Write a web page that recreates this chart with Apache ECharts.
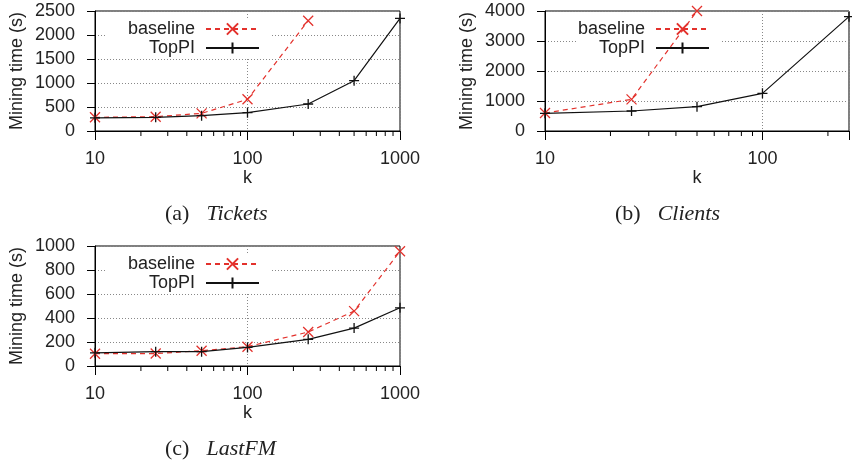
<!DOCTYPE html>
<html>
<head>
<meta charset="utf-8">
<script src="https://cdn.jsdelivr.net/npm/echarts@6/dist/echarts.min.js"></script>
<style>
  html, body { margin: 0; padding: 0; background: #fff; }
  #chart { width: 852px; height: 461px; }
</style>
</head>
<body>
<div id="chart"></div>
<script>
// k values on the x axis (log scale)
const kValues = [10, 25, 50, 100, 250, 500, 1000]
const minorK = [20, 30, 40, 50, 60, 70, 80, 90, 200, 300, 400, 500, 600, 700, 800, 900]
const majorK = [10, 100, 1000]

// mining time (s)
const ticketsBaseline = [285, 298, 368, 660, 2298]
const ticketsTopPI = [275, 285, 320, 382, 562, 1048, 2346]
const clientsBaseline = [600, 1055, 4000]
const clientsTopPI = [589, 667, 811, 1255, 3811]
const lastfmBaseline = [102, 104, 127, 161, 283, 457, 956]
const lastfmTopPI = [110, 119, 119, 155, 222, 316, 485]

const RED = '#e3312c'
const INK = '#222'
const SANS = 'Liberation Sans, Arial, sans-serif'
const SERIF = 'Liberation Serif, Times New Roman, serif'
const CROSS = 'path://M0,0L10,10M0,10L10,0'
const PLUS = 'path://M5,0L5,10M0,5L10,5'

const pairs = vals => vals.map((v, i) => [kValues[i], v])

// one panel per dataset
const panels = [
  { left: 95, top: 11, xMax: 1000, yMax: 2500, yStep: 500, base: ticketsBaseline, top2: ticketsTopPI, cap: '(a)', name: 'Tickets' },
  { left: 545, top: 11, xMax: 250, yMax: 4000, yStep: 1000, base: clientsBaseline, top2: clientsTopPI, cap: '(b)', name: 'Clients' },
  { left: 95, top: 246, xMax: 1000, yMax: 1000, yStep: 200, base: lastfmBaseline, top2: lastfmTopPI, cap: '(c)', name: 'LastFM' },
]

const grid = [], xAxis = [], yAxis = [], series = [], legend = [], title = []

panels.forEach((p, i) => {
  grid.push({
    left: p.left, top: p.top, width: 305, height: 120,
    show: true, borderColor: '#000', borderWidth: 1, backgroundColor: 'transparent',
  })
  xAxis.push({
    gridIndex: i, type: 'log', logBase: 10, min: 10, max: p.xMax,
    axisLine: { show: true, lineStyle: { color: '#000', width: 1 } },
    axisTick: { show: true, inside: false, length: 9, lineStyle: { color: '#000', width: 1 } },
    axisLabel: {
      margin: 19, fontSize: 18, color: INK, fontFamily: SANS,
      showMinLabel: true, showMaxLabel: true,
      formatter: v => (majorK.indexOf(Math.round(v)) >= 0 ? String(Math.round(v)) : ''),
    },
    splitLine: { show: true, lineStyle: { color: '#888', type: [1, 2], width: 1 } },
    name: 'k', nameLocation: 'middle', nameGap: 36,
    nameTextStyle: { fontSize: 18, color: INK, fontFamily: SANS },
  })
  yAxis.push({
    gridIndex: i, type: 'value', min: 0, max: p.yMax, interval: p.yStep,
    axisLine: { show: true, lineStyle: { color: '#000', width: 1 } },
    axisTick: { show: true, inside: false, length: 8, lineStyle: { color: '#000', width: 1 } },
    axisLabel: { margin: 20, fontSize: 18, color: INK, fontFamily: SANS, formatter: v => String(v) },
    splitLine: { show: true, lineStyle: { color: '#888', type: [1, 2], width: 1 } },
    name: 'Mining time (s)', nameLocation: 'middle', nameGap: 69,
    nameTextStyle: { fontSize: 18, color: INK, fontFamily: SANS },
  })
  series.push({
    name: 'baseline', type: 'line', xAxisIndex: i, yAxisIndex: i, z: 3, clip: false,
    data: pairs(p.base),
    symbol: CROSS, symbolSize: 10,
    itemStyle: { color: RED, borderColor: RED, borderWidth: 1.3 },
    lineStyle: { color: RED, width: 1.2, type: [5, 4] },
  })
  series.push({
    name: 'TopPI', type: 'line', xAxisIndex: i, yAxisIndex: i, z: 3, clip: false,
    data: pairs(p.top2),
    symbol: PLUS, symbolSize: 10,
    itemStyle: { color: '#111', borderColor: '#111', borderWidth: 1.3 },
    lineStyle: { color: '#111', width: 1.2 },
  })
  // minor ticks of the log axis
  series.push({
    type: 'custom', xAxisIndex: i, yAxisIndex: i, silent: true, z: 1, clip: false,
    data: minorK.filter(k => k <= p.xMax).map(k => [k, 0]),
    renderItem: (params, api) => {
      const pt = api.coord([api.value(0), 0])
      return {
        type: 'line',
        shape: { x1: pt[0], y1: pt[1], x2: pt[0], y2: pt[1] + 5 },
        style: { stroke: '#000', lineWidth: 1 },
      }
    },
  })
  const dx = p.left - 95, dy = p.top - 11
  const legendBase = {
    orient: 'horizontal', align: 'right', right: 580 - dx, z: 1,
    backgroundColor: '#fff', selectedMode: false,
    itemWidth: 53, itemHeight: 14,
    textStyle: { fontSize: 18, color: INK, fontFamily: SANS, lineHeight: 18, padding: [0, 6, 0, 0] },
  }
  legend.push(Object.assign({}, legendBase, { top: 18 + dy, padding: [2, 12, 1, 22], data: ['baseline'] }))
  legend.push(Object.assign({}, legendBase, { top: 39 + dy, padding: [0, 12, 0, 22], data: ['TopPI'] }))
  title.push({
    left: p.left + 70, top: p.top + 192, padding: 0,
    text: '{n|' + p.cap + '}{i|' + p.name + '}',
    textStyle: {
      fontWeight: 'normal',
      rich: {
        n: { fontFamily: SERIF, fontSize: 22, fontWeight: 'normal', color: INK },
        i: { fontFamily: SERIF, fontSize: 22, fontWeight: 'normal', fontStyle: 'italic', color: INK, padding: [0, 0, 0, 17] },
      },
    },
  })
})

const chart = echarts.init(document.getElementById('chart'))
chart.setOption({
  animation: false,
  backgroundColor: '#fff',
  title, legend, grid, xAxis, yAxis, series,
})
</script>
</body>
</html>
